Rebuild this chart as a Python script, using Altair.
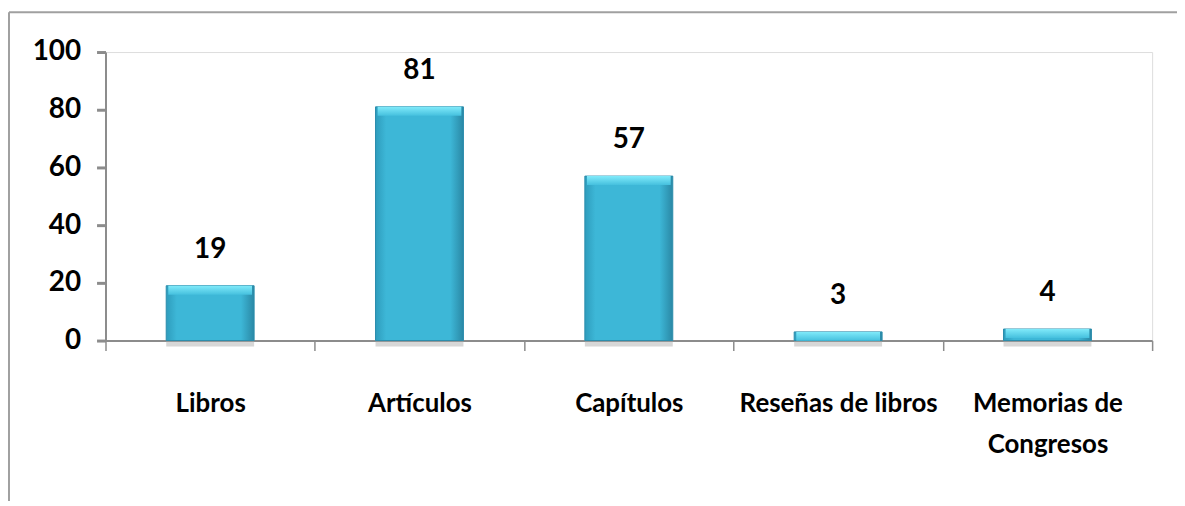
import altair as alt
import pandas as pd

categories = ["Libros", "Artículos", "Capítulos", "Reseñas de libros", "Memorias de Congresos"]
values = [19, 81, 57, 3, 4]
y_ticks = [0, 20, 40, 60, 80, 100]

df = pd.DataFrame({"cat": categories, "value": values})

FONT = "Lato"
AXIS_GRAY = "#8c8c8c"

base = alt.Chart(df)

x_enc = alt.X(
    "cat:N",
    sort=categories,
    scale=alt.Scale(paddingInner=0, paddingOuter=0),
    axis=alt.Axis(
        title=None,
        labelAngle=0,
        labelAlign="center",
        tickBand="extent",
        labelFont=FONT,
        labelFontSize=26,
        labelFontWeight="bold",
        labelColor="#000000",
        labelPadding=40,
        labelLineHeight=42,
        labelBaseline="top",
        labelLimit=0,
        labelExpr="datum.label == 'Memorias de Congresos' ? ['Memorias de', 'Congresos'] : datum.label",
        domainColor=AXIS_GRAY,
        domainWidth=2,
        tickColor=AXIS_GRAY,
        tickSize=10,
        tickWidth=1.5,
    ),
)

y_enc = alt.Y(
    "value:Q",
    scale=alt.Scale(domain=[0, 100], nice=False),
    axis=alt.Axis(
        title=None,
        values=y_ticks,
        grid=False,
        labelFont=FONT,
        labelFontSize=28,
        labelFontWeight="bold",
        labelColor="#000000",
        labelPadding=16,
        domainColor=AXIS_GRAY,
        domainWidth=2,
        tickColor=AXIS_GRAY,
        tickSize=9,
        tickWidth=3,
    ),
)

bar_fill = alt.LinearGradient(
    gradient="linear",
    x1=0, x2=1, y1=0, y2=0,
    stops=[
        alt.GradientStop(color="#2e9cbc", offset=0),
        alt.GradientStop(color="#3db7d7", offset=0.12),
        alt.GradientStop(color="#3db7d7", offset=0.85),
        alt.GradientStop(color="#2a88a5", offset=1),
    ],
)

bars = base.mark_bar(
    fill=bar_fill, width=alt.RelativeBandSize(0.42), stroke="#2a8cab", strokeWidth=1
).encode(x=x_enc, y=y_enc)

top_fill = alt.LinearGradient(
    gradient="linear",
    x1=0, x2=0, y1=0, y2=1,
    stops=[
        alt.GradientStop(color="#80eafa", offset=0),
        alt.GradientStop(color="#45c0de", offset=1),
    ],
)

tops = base.mark_bar(
    fill=top_fill, width=alt.RelativeBandSize(0.40), y2Offset=9
).encode(x=alt.X("cat:N", sort=categories), y="value:Q", y2="value:Q")

shadow = base.mark_bar(
    color="#bdbdbd", opacity=0.6, width=alt.RelativeBandSize(0.42), y2Offset=6, yOffset=1
).encode(x=alt.X("cat:N", sort=categories), y=alt.datum(0), y2=alt.datum(0))

labels = base.mark_text(
    baseline="bottom", dy=-22, font=FONT, fontSize=28, fontWeight="bold", color="#000000"
).encode(x=alt.X("cat:N", sort=categories), y="value:Q", text="value:Q")

frame_df = pd.DataFrame({"k": [0]})
frame_top = alt.Chart(frame_df).mark_rule(color="#a0a0a0", strokeWidth=2).encode(
    x=alt.value(-97), x2=alt.value(1200), y=alt.value(-40)
)
frame_left = alt.Chart(frame_df).mark_rule(color="#a0a0a0", strokeWidth=2).encode(
    x=alt.value(-97), y=alt.value(-40), y2=alt.value(700)
)

chart = alt.layer(shadow, bars, tops, labels, frame_top, frame_left).properties(
    width=1052,
    height=290,
    autosize=alt.AutoSizeParams(type="none"),
    padding={"left": 98, "top": 43, "right": 25, "bottom": 160},
).configure_view(stroke=None).configure(background="#ffffff")

chart.save("out.html", embed_options={"renderer": "svg", "actions": False})
